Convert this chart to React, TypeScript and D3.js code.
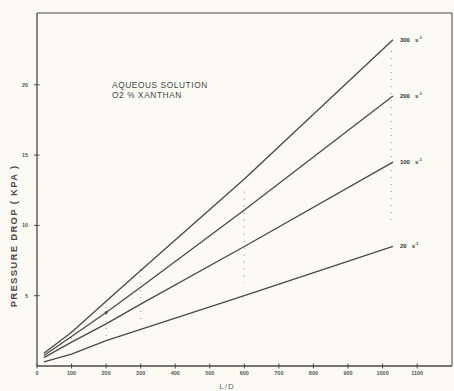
import React from "react";
import * as d3 from "d3";

// L/D stations where the curves were read
const ldPoints = [20, 100, 200, 300, 600, 1030];

// pressure drop (kPa) per shear rate
const series = [
  { label: "300", values: [0.9, 2.4, 4.6, 6.8, 13.3, 23.2] },
  { label: "200", values: [0.75, 2.1, 3.8, 5.6, 11.1, 19.2] },
  { label: "100", values: [0.6, 1.7, 3.0, 4.4, 8.5, 14.5] },
  { label: "20", values: [0.3, 0.85, 1.8, 2.6, 5.0, 8.5] },
];

// dotted vertical markers
const dotLD = [100, 200, 300, 600, 1025];
const dotTop = [2.5, 4.7, 6.9, 12.4, 22.4];
const dotBottom = [1.8, 2.0, 3.1, 5.9, 10.4];

const xTicks = [0, 100, 200, 300, 400, 500, 600, 700, 800, 900, 1000, 1100];
const yTicks = [5, 10, 15, 20];

const W = 454;
const H = 391;
const ink = "#4a4a44";
const font = "'Liberation Sans', Arial, sans-serif";

export default function App() {
  const x = d3.scaleLinear().domain([0, 1200]).range([37, 451.7]);
  const y = d3.scaleLinear().domain([0, 25]).range([366, 14.5]);

  const line = d3
    .line<number>()
    .x((_, i) => x(ldPoints[i]))
    .y((d) => y(d));

  return (
    <svg
      width={W}
      height={H}
      style={{ position: "fixed", left: 0, top: 0, background: "#fbfbf4" }}
      fontFamily={font}
    >
      <rect x={0} y={0} width={W} height={H} fill="#fbfbf4" />

      {/* frame */}
      <line x1={x(0)} x2={452} y1={13} y2={13} stroke={ink} strokeWidth={1.2} />
      <line x1={452} x2={452} y1={13} y2={y(0)} stroke={ink} strokeWidth={1} />
      <line x1={x(0)} x2={x(0)} y1={13} y2={y(0)} stroke={ink} strokeWidth={1.3} />
      <line x1={x(0)} x2={452} y1={y(0)} y2={y(0)} stroke={ink} strokeWidth={1.3} />

      {/* x ticks */}
      {xTicks.map((t) => (
        <g key={t}>
          <line x1={x(t)} x2={x(t)} y1={y(0) - 2.5} y2={y(0) + 2.5} stroke={ink} strokeWidth={1} />
          <text
            x={x(t)}
            y={y(0) + 9}
            fontSize={5.5}
            fontWeight="bold"
            textAnchor="middle"
            fill="#555"
          >
            {t}
          </text>
        </g>
      ))}

      {/* y ticks */}
      {yTicks.map((t) => (
        <g key={t}>
          <line x1={x(0) - 3} x2={x(0) + 2.5} y1={y(t)} y2={y(t)} stroke={ink} strokeWidth={1} />
          <text
            x={x(0) - 9}
            y={y(t) + 2}
            fontSize={5.5}
            fontWeight="bold"
            textAnchor="end"
            fill="#555"
          >
            {t}
          </text>
        </g>
      ))}

      {/* axis titles */}
      <text
        x={227}
        y={389}
        fontSize={8}
        textAnchor="middle"
        fill="#666"
        letterSpacing={1}
      >
        L/D
      </text>
      <text
        transform={`translate(16.5,236) rotate(-90)`}
        fontSize={9.5}
        fontWeight="bold"
        textAnchor="middle"
        fill="#4a4a4a"
        letterSpacing={1.3}
      >
        PRESSURE DROP ( KPA )
      </text>

      {/* annotation */}
      <text x={112} y={88} fontSize={8.3} fill="#444" letterSpacing={0.6}>
        AQUEOUS SOLUTION
      </text>
      <text x={112} y={98} fontSize={8.3} fill="#444" letterSpacing={0.6}>
        O2 % XANTHAN
      </text>

      {/* dotted markers */}
      {dotLD.map((d, i) => (
        <line
          key={d}
          x1={x(d)}
          x2={x(d)}
          y1={y(dotTop[i])}
          y2={y(dotBottom[i])}
          stroke="#888"
          strokeWidth={1}
          strokeDasharray="1,6"
        />
      ))}

      {/* curves */}
      {series.map((s) => (
        <path
          key={s.label}
          d={line(s.values) ?? ""}
          fill="none"
          stroke={ink}
          strokeWidth={1.3}
        />
      ))}
      <circle cx={x(200)} cy={y(3.8)} r={1.4} fill={ink} />

      {/* curve labels */}
      {series.map((s) => (
        <text
          key={s.label}
          x={x(ldPoints[ldPoints.length - 1]) + 7}
          y={y(s.values[s.values.length - 1]) + 2}
          fontSize={6}
          fontWeight="bold"
          fill="#333"
        >
          {s.label}
          <tspan dx={5}>s</tspan>
          <tspan fontSize={4} dy={-3}>-1</tspan>
        </text>
      ))}
    </svg>
  );
}
